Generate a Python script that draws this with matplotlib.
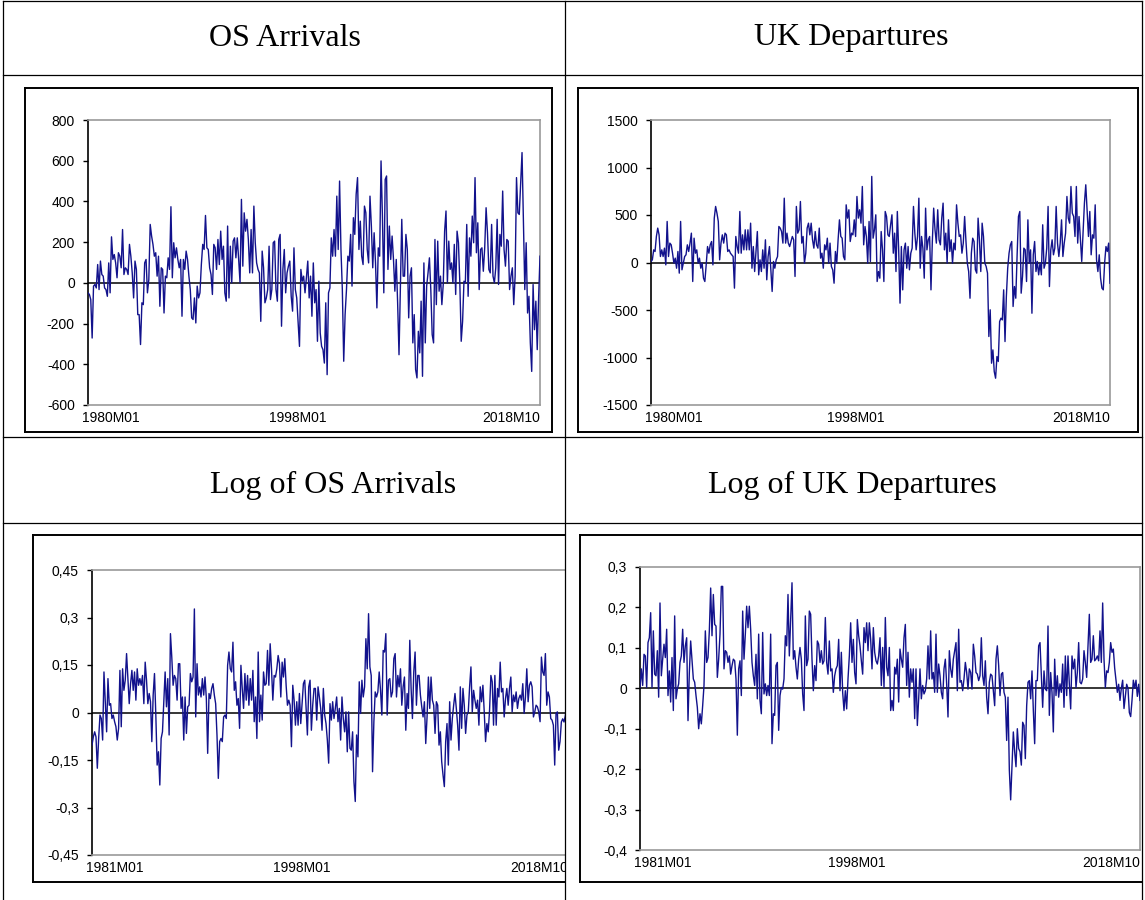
import numpy as np
import matplotlib
matplotlib.use("Agg")
import matplotlib.pyplot as plt
from matplotlib.lines import Line2D
import matplotlib.transforms as mtransforms

plt.rcParams['font.family'] = ['Liberation Sans', 'DejaVu Sans']

# ---------------- data ----------------
titles = ["OS Arrivals", "UK Departures", "Log of OS Arrivals", "Log of UK Departures"]

os_arrivals = [
    -49, -57, -82, -271, -16, -8, -25, 90, -33, 107, 41, 33, -25, -33, -66, 98, -49, 226, 115, 139, 98, 25, 148, 131,
    74, 262, 41, 74, 66, 41, 189, 131, 49, -74, 107, 66, -156, -156, -303, -98, -107, 98, 115, -49, 16, 287, 230, 189,
    131, 148, 33, 131, -115, 74, 66, -148, 33, 25, 123, 66, 374, 25, 197, 123, 172, 115, 74, 115, -164, 115, 66, 156,
    115, 33, -33, -172, -180, -74, -197, -16, -74, -49, 90, 189, 164, 331, 172, 164, 74, 41, -57, 189, 172, 66, 213,
    90, 254, 115, 180,
    -49, -90, 279, -74, 180, 0, 205, 221, 123, 221, 115, 0, 410, 82, 344, 254, 312, 213, 49, 262, 49, 377, 197, 98, 66,
    49, -189, 156, 74, -98, -74, -33, 180, -82, -33, 197, 205, -33, -90, 213, 238, -213, 66, 164, -49, 49, 82, 107,
    -66, -139, 172, -33, -74, -194, -312, 66, 8, 33, -49, 25, 107, -74, 33, -164, 98, -98, -33, -287, 8, -246, -312,
    -328, -394, -98, -451, -49, -25, 221, 131, 262, 131, 426, 164, 500, 164, -33, -385, -156, -33, 131, 107, 238, -16,
    320, 238, 435, 517, 164, 303, 131, 90, 377, 344, 164, 98, 426, 279, 74, 246, 98, -123, 172, 131, 599, 328, -49,
    508, 525,
    66, 279, 115, 230, 115, -41, 115, -98, -353, -33, 312, 33, 33, 238, 164, -172, 33, 74, -295, -156, -426, -467,
    -238, -344, -90, -459, 98, -295, -16, 49, 123, -33, -254, -295, 213, -107, 205, -41, 33, -107, -8, 254, 353, 0,
    205, 66, 98, 0, 189, -57, 254, 197, 0, -287, -189, 8, 0, 287, -66, 221, 131, 328, 197, 517, 148, 295, -33, 164,
    172, 57, 172, 369, 246, 66, 49, 287, 33, 0, 74, 312, -8, 238, 180, 451, 164, 82, 213, 205, -33, 33, 74, -107, 33,
    517, 344, 336, 492, 640, 295, -33, 197, -148, -66, -295, -435, -8, -230, -90, -328, -74, 131,
]

uk_departures = [
    11, 28, 133, 116, 274, 362, 291, 63, 133, 63, 151, -25, 432, 63, 204, 186, 98, -7, 46, -60, 116, -112, 432, -77,
    -7, 63, 81, 186, 116, 204, 309, -200, 256, 98, 133, -7, 46, -60, -7, -165, -200, -25, 168, 98, 186, 221, -25, 467,
    590, 519, 432, 28, 204, 291, 204, 309, 291, 116, 133, 98, 81, 63, -270, 274, 168, 98, 537, 98, 291, 133, 344, 133,
    344, 133, 414, -60, 168, -95, 116, 326, -130, 28, -95, 133, -60, 239, -182, 63, 168, -60, -305, 11, -60, 28, 63,
    379, 362, 326, 204, 677, 204, 309, 204, 168, 221, 274, 239, -147, 590, 309, 344,
    642, 204, 274, -7, 98, 362, 414, 291, 414, 239, 151, 326, 186, 151, 362, 46, 98, -60, 186, 133, 256, -7, 204, -42,
    -77, -218, 116, -7, 239, 449, 274, 256, 63, 28, 607, 467, 555, 221, 309, 291, 449, 274, 695, 467, 555, 414, 800,
    186, 379, 274, -7, 432, 11, 906, 256, 344, 502, -200, -95, -165, 326, 133, -200, 537, 484, 291, 274, 397, 502, 98,
    309, -95, 537, 133, -428, 168, -288, 133, 204, -60, 168, -77, 98, 151, 590, 309, 133, 274, 677, -60, 274, 151,
    -165, 572, 133, 239, 274, -288, 221, 572, 344, 204, 555, 239, 186, 467, 625, 133, 309, -7, 449, 116, 239, -7, 204,
    133,
    607, 414, 274, 291, 98, 204, 484, 221, -7, -95, -376, 98, 256, 221, -77, -112, 467, 239, -95, 414, 274, -7, -42,
    -112, -779, -498, -1060, -920, -1148, -1218, -990, -1042, -621, -586, -604, -288, -832, -358, -60, 98, 186, 221,
    -463, -253, -376, 81, 484, 537, -323, -147, 151, 133, -200, 449, -7, 133, -534, 81, 221, -95, 11, -130, -7, -130,
    397, -60, -7, 151, 590, -253, 133, 239, 81, 151, 590, 204, 63, 204, 449, 63, 204, 309, 695, 467, 414, 800, 519,
    484, 274, 800, 204, 484, 239, 11, 309, 625, 818, 555, 274, 537, 81, 291, 256, 607, 28, -95, 81, -165, -270, -288,
    -7, 168, 116, 204, -218,
]

log_os_arrivals = [
    -0.103, -0.077, -0.061, -0.077, -0.176, -0.082, -0.008, -0.019, -0.087, 0.128, 0.034, -0.061, 0.107, 0.023, 0.028,
    -0.019, -0.008, -0.029, -0.045, -0.087, -0.05, 0.133, -0.045, 0.138, 0.07, 0.102, 0.186, 0.107, 0.028, 0.091,
    0.133, 0.07, 0.128, 0.039, 0.138, 0.086, 0.107, 0.086, 0.117, 0.028, 0.159, 0.102, 0.028, 0.06, 0.034, -0.092,
    0.055, 0.123, -0.008, -0.166, -0.124, -0.229, -0.082, -0.061, 0.034, 0.128, 0.018, 0.107, -0.071, 0.249, 0.175,
    0.086, 0.117, 0.107, 0.039, 0.154, 0.154, 0.013, 0.049, -0.087, 0.049, -0.066, 0.018, 0.023, 0.123, 0.097, 0.112,
    0.327, -0.014, 0.154, 0.055, 0.081, 0.049, 0.107, 0.055, 0.112, 0.044, -0.129, 0.06, 0.044, 0.076, 0.091, 0.055,
    0.028, -0.071, -0.208, -0.092, -0.082, -0.092, -0.014, -0.008, -0.019, 0.149, 0.191, 0.138, 0.128, 0.222, 0.07,
    0.097, 0.023, 0.044, -0.05, 0.149, 0.076, 0.013, 0.123, 0.039, 0.117, 0.023,
    0.107, 0.039, 0.133, -0.029, 0.049, -0.082, 0.191, -0.029, 0.055, -0.024, 0.128, 0.086, 0.091, 0.196, 0.086, 0.217,
    0.138, 0.039, 0.117, 0.112, 0.138, 0.18, 0.154, 0.049, 0.159, 0.112, 0.17, 0.086, 0.023, 0.039, 0.023, -0.108,
    0.086, 0.039, -0.04, 0.034, -0.04, 0.06, -0.035, 0.028, 0.091, 0.102, 0.013, -0.071, 0.081, 0.102, -0.056, 0.023,
    0.076, 0.076, -0.024, 0.081, 0.049, 0.013, -0.056, 0.076, -0.008, -0.035, -0.087, -0.16, 0.028, -0.024, 0.034,
    -0.019, 0.013, 0.049, -0.029, 0.013, -0.087, 0.049, -0.019, -0.061, 0.002, -0.124, 0.002, -0.113, -0.119, -0.061,
    -0.218, -0.281, -0.071, -0.14, 0.097, -0.003, 0.102, 0.049, 0.081, 0.233, 0.138, 0.312, 0.144, 0.117, -0.187,
    -0.029, 0.065, 0.049, 0.065, 0.128, 0.07, -0.008, 0.196, 0.191, 0.249, -0.008, 0.102, 0.107, 0.049, 0.065, 0.17,
    0.186, 0.049, 0.117, 0.081, 0.138, 0.023, 0.081, 0.112,
    -0.056, 0.06, 0.013, 0.228, 0.076, -0.019, 0.128, 0.191, 0.023, 0.117, 0.117, 0.055, 0.018, -0.014, 0.034, -0.098,
    -0.014, 0.112, 0.013, 0.112, 0.039, 0.023, -0.066, 0.034, 0.023, -0.103, -0.061, -0.155, -0.197, -0.234, -0.092,
    -0.035, -0.166, 0.034, -0.087, -0.019, 0.023, 0.06, 0.013, -0.04, -0.119, 0.081, -0.05, 0.076, 0.023, -0.066,
    -0.008, 0.002, 0.081, 0.144, 0.002, 0.07, 0.039, 0.013, 0.039, -0.04, 0.081, 0.034, 0.086, 0.002, -0.092, -0.035,
    -0.061, 0.007, 0.117, 0.097, -0.04, 0.117, -0.04, 0.076, 0.049, 0.159, 0.065, 0.076, -0.014, 0.044, 0.076, 0.023,
    0.076, 0.112, 0.002, 0.055, 0.034, 0.065, 0.013, 0.044, 0.055, 0.039, 0.091, -0.003, 0.049, 0.138, 0.034, 0.086,
    0.097, 0.081, -0.014, 0.002, 0.023, 0.018, 0.002, -0.029, 0.175, 0.128, 0.117, 0.186, 0.023, 0.065, 0.049, -0.019,
    -0.024, -0.04, -0.166, -0.003, 0.002, -0.119, -0.092, -0.03, -0.02, -0.03, -0.01, 0.02, 0.04,
]

log_uk_departures = [
    0.002, 0.048, 0.007, 0.084, 0.08, 0.002, 0.113, 0.125, 0.187, 0.002, 0.142, 0.035, 0.031, 0.093, -0.022, 0.211,
    0.031, 0.072, 0.109, 0.076, 0.146, -0.018, 0.043, -0.034, 0.076, -0.055, 0.179, -0.026, -0.002, 0.011, 0.064, 0.08,
    0.146, 0.064, 0.105, 0.125, -0.08, 0.039, 0.117, 0.068, 0.023, 0.015, -0.018, -0.047, -0.1, -0.063, -0.088, -0.043,
    0.007, 0.142, 0.064, 0.076, 0.142, 0.248, 0.13, 0.232, 0.158, 0.154, 0.027, 0.072, 0.134, 0.252, 0.252, 0.048,
    0.093, 0.089, 0.064, 0.08, 0.035, 0.056, 0.072, 0.068, 0.023, -0.116, 0.048, 0.068, -0.018, 0.191, 0.072, 0.134,
    0.203, 0.15, 0.203, 0.146, 0.064, 0.031, 0.007, 0.084, -0.026, 0.134, -0.03, -0.063, 0.138, -0.014, 0.011, -0.018,
    0.007, -0.018, 0.134, -0.137, -0.063, -0.067, 0.056, 0.064, -0.104, -0.018, 0.002, -0.002, 0.023, 0.13, 0.105,
    0.232, 0.08, 0.17, 0.261, 0.072, 0.093, 0.052, 0.023,
    0.072, 0.101, 0.072, -0.014, -0.055, 0.179, 0.056, 0.072, 0.191, 0.183, 0.072, -0.006, 0.056, 0.019, 0.117, 0.109,
    0.064, 0.093, 0.06, 0.068, 0.175, 0.064, 0.035, 0.117, 0.043, 0.048, -0.01, 0.031, 0.048, 0.056, 0.121, -0.006,
    0.089, -0.01, -0.055, -0.006, -0.051, 0.023, 0.08, 0.162, 0.064, 0.121, 0.039, 0.011, 0.17, 0.13, 0.105, 0.068,
    0.035, 0.15, 0.113, 0.162, 0.093, 0.162, 0.121, 0.048, 0.15, 0.089, 0.068, 0.06, 0.08, 0.125, 0.007, 0.101, 0.002,
    0.175, 0.052, 0.031, 0.101, -0.055, -0.03, -0.055, 0.052, 0.035, 0.072, -0.034, 0.097, 0.072, 0.052, 0.125, 0.158,
    0.007, 0.089, -0.022, 0.048, 0.015, 0.048, -0.075, 0.048, -0.092, -0.026, 0.048, -0.026, 0.007, -0.014, -0.006,
    0.023, 0.105, 0.023, 0.142, 0.023, 0.039, -0.01, 0.134, -0.01, 0.06, 0.031, -0.01, -0.026, 0.048, 0.072, 0.011,
    -0.071, 0.093, 0.048, 0.027, 0.072,
    0.093, 0.113, -0.006, 0.146, 0.015, 0.019, -0.006, 0.023, 0.064, 0.039, -0.002, 0.048, 0.039, -0.002, 0.109, 0.08,
    0.039, 0.035, 0.019, 0.031, 0.125, 0.031, 0.007, 0.068, -0.022, -0.063, 0.015, 0.035, 0.031, -0.006, -0.043, 0.072,
    0.105, 0.056, -0.018, 0.035, 0.039, -0.01, -0.022, -0.129, -0.022, -0.202, -0.276, -0.19, -0.108, -0.157, -0.194,
    -0.1, -0.149, -0.157, -0.19, -0.084, -0.092, -0.174, -0.043, 0.015, 0.019, -0.026, 0.043, -0.055, -0.137, 0.019,
    0.019, 0.105, 0.113, 0.031, -0.047, 0.043, -0.002, -0.006, 0.154, -0.067, 0.039, -0.01, -0.108, 0.072, -0.018,
    0.031, -0.022, 0.011, -0.01, 0.06, -0.047, 0.08, -0.018, 0.08, 0.011, -0.051, 0.08, 0.048, 0.072, 0.002, 0.039,
    0.113, 0.015, 0.011, 0.023, 0.093, 0.064, 0.027, 0.105, 0.183, 0.064, 0.072, 0.13, 0.068, 0.072, 0.08, 0.068,
    0.142, 0.064, 0.211, 0.072, 0.002, 0.043, 0.039, 0.064, 0.113, 0.089, 0.097,
    0.05, 0.02, -0.01, 0.01, -0.03, 0.0, 0.02, -0.05, -0.02, 0.01, 0.0, -0.06, -0.07, -0.03, 0.02, 0.0, 0.02, -0.02,
    0.01, -0.03,
]

# axis ticks / labels
yticks_os = [-600, -400, -200, 0, 200, 400, 600, 800]
yticks_uk = [-1500, -1000, -500, 0, 500, 1000, 1500]
yticks_los = [-0.45, -0.3, -0.15, 0, 0.15, 0.3, 0.45]
ylabels_los = ["-0,45", "-0,3", "-0,15", "0", "0,15", "0,3", "0,45"]
yticks_luk = [-0.4, -0.3, -0.2, -0.1, 0, 0.1, 0.2, 0.3]
ylabels_luk = ["-0,4", "-0,3", "-0,2", "-0,1", "0", "0,1", "0,2", "0,3"]

xlabels_level = ["1980M01", "1998M01", "2018M10"]
xmonths_level = [0, 216, 465]          # months since 1980M01
xlabels_log = ["1981M01", "1998M01", "2018M10"]
xmonths_log = [0, 204, 453]            # months since 1981M01

# ---------------- layout ----------------
W, H = 1145, 900
fig = plt.figure(figsize=(W / 100, H / 100), dpi=100)


def frect(l, t, r, b):
    return [l / W, 1 - b / H, (r - l) / W, (b - t) / H]


def fline(x0, y0, x1, y1, **kw):
    fig.add_artist(Line2D([x0 / W, x1 / W], [1 - y0 / H, 1 - y1 / H],
                          transform=fig.transFigure, **kw))


LINE_COLOR = "#12128c"

panels = [
    dict(rect=(88, 120, 540, 405), data=os_arrivals, span=465, ylim=(-600, 800),
         yt=yticks_os, yl=[str(v) for v in yticks_os], xt=xmonths_level, xl=xlabels_level, mid=0),
    dict(rect=(651, 120, 1110, 405), data=uk_departures, span=465, ylim=(-1500, 1500),
         yt=yticks_uk, yl=[str(v) for v in yticks_uk], xt=xmonths_level, xl=xlabels_level, mid=-8),
    dict(rect=(92, 570, 568, 855), data=log_os_arrivals, span=453, ylim=(-0.45, 0.45),
         yt=yticks_los, yl=ylabels_los, xt=xmonths_log, xl=xlabels_log, mid=-5),
    dict(rect=(640, 567, 1140, 850), data=log_uk_departures, span=453, ylim=(-0.4, 0.3),
         yt=yticks_luk, yl=ylabels_luk, xt=xmonths_log, xl=xlabels_log, mid=-8),
]

for p in panels:
    ax = fig.add_axes(frect(*p["rect"]))
    vals = np.asarray(p["data"], dtype=float)
    x = np.linspace(0, p["span"], len(vals))
    ax.axhline(0, color="black", lw=1.1, zorder=2)
    ax.plot(x, vals, color=LINE_COLOR, lw=1.0, zorder=3)
    ax.set_xlim(0, p["span"])
    ax.set_ylim(*p["ylim"])
    ax.set_yticks(p["yt"])
    ax.set_yticklabels(p["yl"])
    ax.set_xticks([])
    base = mtransforms.blended_transform_factory(ax.transData, ax.transAxes)
    offsets = [-6, p["mid"], 0]
    aligns = ["left", "center", "right"]
    for xm, lab, dx, ha in zip(p["xt"], p["xl"], offsets, aligns):
        tr = mtransforms.offset_copy(base, fig=fig, x=dx, y=-6, units="dots")
        ax.text(xm, 0, lab, transform=tr, ha=ha, va="top", fontsize=10, clip_on=False)
    ax.tick_params(axis="y", direction="out", length=3.5, width=1, pad=6,
                   labelsize=10, colors="black")
    for s in ["top", "right", "bottom"]:
        ax.spines[s].set_color("#9a9a9a")
        ax.spines[s].set_linewidth(1.2)
    ax.spines["left"].set_color("black")
    ax.spines["left"].set_linewidth(1.2)

# white masks so the bottom-row pictures are cut at the cell borders
fig.add_artist(plt.Rectangle((565.5 / W, 1 - 890 / H), 13 / W, 360 / H,
                             transform=fig.transFigure, color="white", zorder=5))
fig.add_artist(plt.Rectangle((1142.5 / W, 1 - 890 / H), 3 / W, 360 / H,
                             transform=fig.transFigure, color="white", zorder=5))

# panel frames
kwf = dict(color="black", lw=1.4, zorder=6)
for (l, t, r, b) in [(25, 88, 552, 432), (578, 88, 1138, 432)]:
    fline(l, t, r, t, **kwf)
    fline(l, b, r, b, **kwf)
    fline(l, t, l, b, **kwf)
    fline(r, t, r, b, **kwf)
for (l, t, r, b) in [(33, 535, 565, 882), (580, 535, 1142, 882)]:
    fline(l, t, r, t, **kwf)
    fline(l, b, r, b, **kwf)
    fline(l, t, l, b, **kwf)

# table grid
kwt = dict(color="black", lw=0.9, zorder=7)
fline(3, 1, 1142, 1, **kwt)
fline(3, 75, 1142, 75, **kwt)
fline(3, 437, 1142, 437, **kwt)
fline(3, 523, 1142, 523, **kwt)
fline(3, 1, 3, 900, **kwt)
fline(565, 1, 565, 900, **kwt)
fline(1142, 1, 1142, 900, **kwt)

# titles
title_pos = [(285, 38), (851, 38), (333, 485), (852, 485)]
for t, (tx, ty) in zip(titles, title_pos):
    fig.text(tx / W, 1 - ty / H, t, ha="center", va="center",
             family=["Liberation Serif", "DejaVu Serif"], fontsize=23, zorder=8)

fig.savefig("out.png", dpi=100)
